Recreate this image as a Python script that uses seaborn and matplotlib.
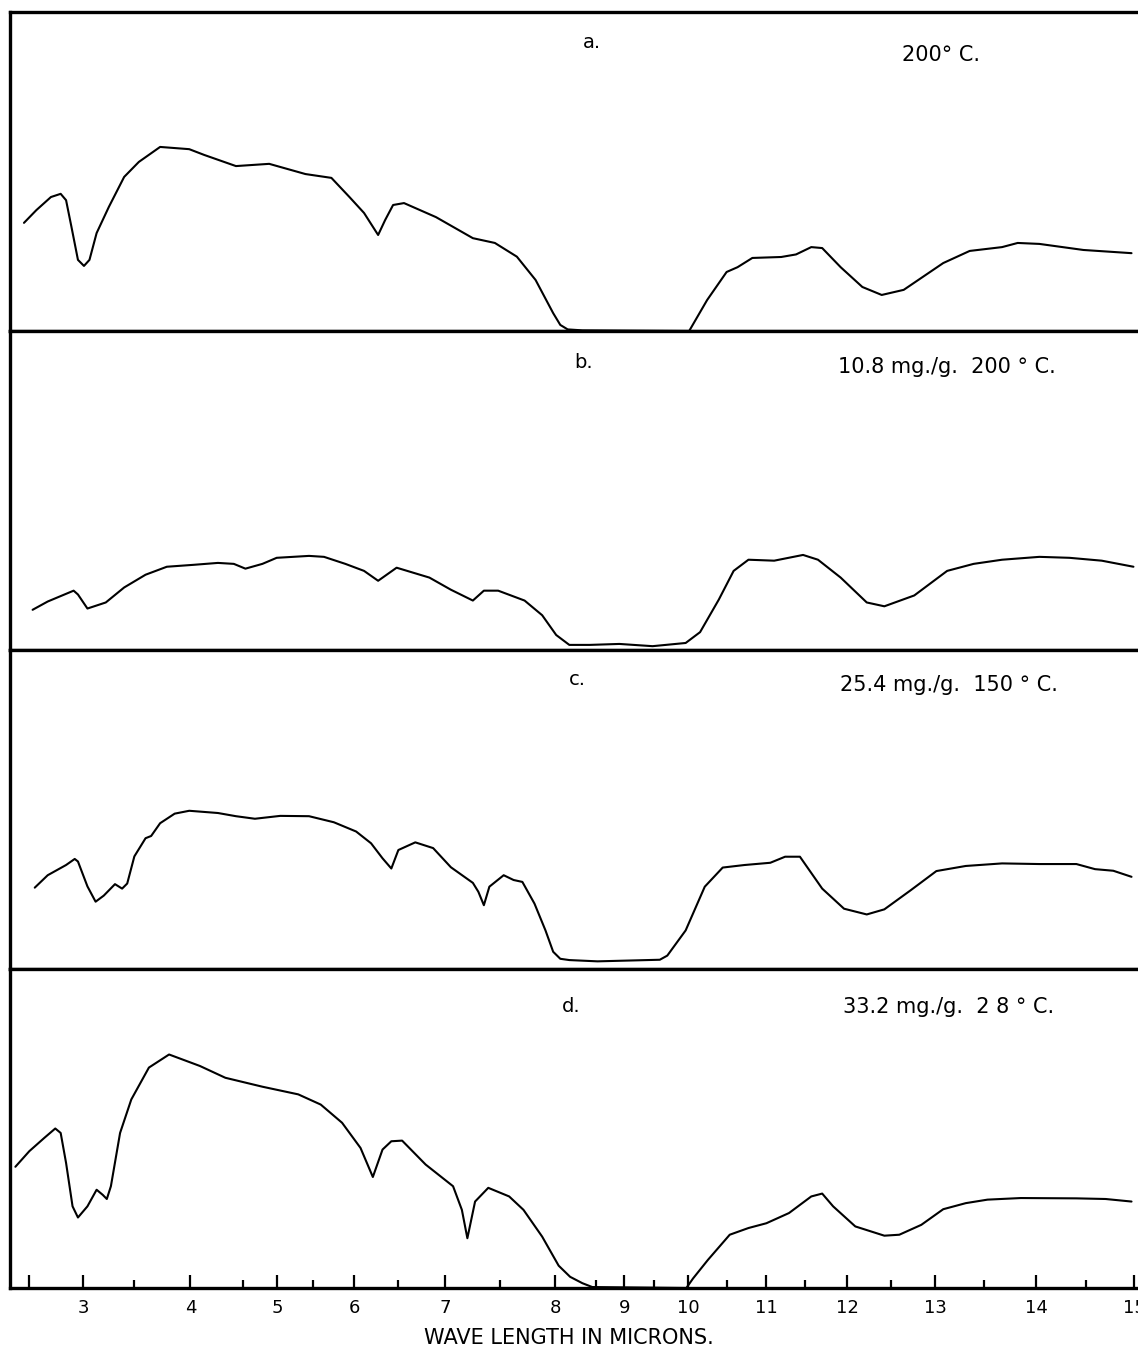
import numpy as np
import pandas as pd
import matplotlib
matplotlib.use("Agg")
import matplotlib.pyplot as plt
import seaborn as sns
from matplotlib.ticker import FixedLocator, FixedFormatter

# chart-paper calibration: wavelength (microns) -> position along the drum scale
cal_wave = [1.30, 2.5, 3, 3.5, 4, 4.5, 5, 5.5, 6, 6.5, 7, 7.5, 8, 8.5, 9, 9.5,
            10, 10.5, 11, 11.5, 12, 12.5, 13, 13.5, 14, 14.5, 15, 16.73]
cal_pos = [-100, 29, 83, 134, 190, 243, 277, 313, 354, 398, 445, 500, 555, 596,
           624, 654, 688, 727, 766, 805, 847, 891, 935, 984, 1036, 1086, 1134, 1300]

major_ticks = [2.5, 3, 4, 5, 6, 7, 8, 9, 10, 11, 12, 13, 14, 15]
major_labels = ["", "3", "4", "5", "6", "7", "8", "9", "10", "11", "12", "13", "14", "15"]
minor_ticks = [3.5, 4.5, 5.5, 6.5, 7.5, 8.5, 9.5, 10.5, 11.5, 12.5, 13.5, 14.5]

panel_letters = ["a.", "b.", "c.", "d."]
panel_notes = ["200° C.", "10.8 mg./g.  200 ° C.", "25.4 mg./g.  150 ° C.",
               "33.2 mg./g.  2 8 ° C."]

# transmission traces (percent of panel height)
wave_a = [2.45, 2.565, 2.70, 2.79, 2.84, 2.89, 2.95, 3.006, 3.06, 3.13, 3.25, 3.40,
          3.54, 3.73, 3.99, 4.13, 4.43, 4.88, 5.39, 5.72, 5.94, 6.11, 6.27, 6.35,
          6.44, 6.56, 6.90, 7.25, 7.45, 7.65, 7.82, 7.98, 8.06, 8.15, 8.33, 10.01,
          10.24, 10.49, 10.63, 10.82, 11.19, 11.38, 11.57, 11.70, 11.92, 12.17,
          12.39, 12.64, 13.08, 13.35, 13.67, 13.82, 14.03, 14.47, 14.97]
trans_a = [33.9, 37.9, 42.0, 43.0, 41.0, 32.6, 22.3, 20.4, 22.3, 30.7, 38.9, 48.3,
           53.0, 57.7, 57.0, 55.2, 51.7, 52.4, 49.2, 48.0, 42.0, 37.0, 30.1, 34.8,
           39.5, 40.1, 35.7, 29.1, 27.6, 23.3, 16.0, 5.6, 1.9, 0.5, 0.2, 0.0,
           9.7, 18.5, 20.0, 22.9, 23.2, 24.0, 26.3, 26.0, 20.0, 13.8,
           11.3, 12.9, 21.3, 25.1, 26.3, 27.6, 27.3, 25.4, 24.4]

wave_b = [2.53, 2.67, 2.91, 2.95, 3.04, 3.22, 3.40, 3.60, 3.79, 4.03, 4.26, 4.41,
          4.53, 4.78, 4.99, 5.44, 5.63, 5.89, 6.11, 6.27, 6.48, 6.83, 7.05, 7.25,
          7.35, 7.48, 7.72, 7.88, 8.01, 8.17, 8.42, 8.91, 9.47, 9.96, 10.15, 10.39,
          10.58, 10.77, 11.10, 11.47, 11.65, 11.92, 12.22, 12.42, 12.76, 13.12,
          13.39, 13.67, 14.03, 14.33, 14.66, 14.99]
trans_b = [12.6, 15.2, 18.6, 17.4, 13.0, 14.9, 19.6, 23.6, 26.1, 26.7, 27.3, 27.0,
           25.5, 27.0, 28.9, 29.5, 29.2, 27.0, 24.8, 21.7, 25.8, 22.7, 18.9, 15.5,
           18.6, 18.6, 15.5, 10.9, 4.7, 1.6, 1.6, 1.9, 1.2, 2.2, 5.6, 15.8,
           24.8, 28.3, 28.0, 29.8, 28.3, 22.7, 14.9, 13.7, 17.1, 24.8,
           27.0, 28.3, 29.2, 28.9, 28.0, 26.1]

wave_c = [2.55, 2.67, 2.84, 2.92, 2.95, 3.04, 3.12, 3.20, 3.31, 3.38, 3.43, 3.50,
          3.60, 3.65, 3.73, 3.86, 3.99, 4.26, 4.43, 4.67, 5.04, 5.44, 5.75, 6.02,
          6.19, 6.32, 6.42, 6.50, 6.68, 6.87, 7.05, 7.25, 7.30, 7.35, 7.40, 7.53,
          7.62, 7.70, 7.81, 7.91, 7.98, 8.06, 8.17, 8.52, 9.58, 9.69, 9.96, 10.21,
          10.44, 10.72, 11.05, 11.24, 11.43, 11.70, 11.96, 12.22, 12.42, 12.72,
          13.01, 13.31, 13.67, 14.03, 14.40, 14.59, 14.78, 14.97]
trans_c = [25.5, 29.4, 32.6, 34.5, 33.7, 25.9, 21.1, 23.0, 26.6, 25.2, 26.8, 35.3,
           41.0, 41.7, 45.7, 48.7, 49.6, 48.9, 47.9, 47.1, 48.0, 47.9, 46.0, 43.1,
           39.4, 34.7, 31.5, 37.3, 39.7, 37.9, 31.9, 27.0, 24.2, 20.0, 25.8, 29.4,
           27.9, 27.3, 20.5, 12.1, 5.4, 3.2, 2.8, 2.4, 2.9, 4.2, 12.1, 25.8,
           31.8, 32.6, 33.3, 35.2, 35.2, 25.2, 18.9, 17.1, 18.7, 24.7,
           30.7, 32.3, 33.1, 32.9, 32.9, 31.3, 30.8, 28.9]

wave_d = [2.37, 2.50, 2.64, 2.74, 2.79, 2.84, 2.90, 2.95, 3.04, 3.13, 3.19, 3.23,
          3.27, 3.36, 3.47, 3.63, 3.81, 4.09, 4.33, 4.78, 5.29, 5.59, 5.85, 6.07,
          6.21, 6.32, 6.42, 6.54, 6.79, 7.07, 7.15, 7.20, 7.27, 7.39, 7.58, 7.71,
          7.88, 8.04, 8.18, 8.33, 8.45, 9.97, 10.06, 10.25, 10.53, 10.77, 11.00,
          11.29, 11.57, 11.70, 11.83, 12.09, 12.42, 12.59, 12.84, 13.08, 13.31,
          13.53, 13.85, 14.40, 14.70, 14.97]
trans_d = [38.0, 42.9, 47.1, 50.0, 48.6, 39.2, 25.6, 22.1, 25.6, 30.8, 29.2, 27.9,
           31.9, 48.6, 59.1, 69.1, 73.2, 69.6, 65.9, 63.1, 60.7, 57.5, 51.8, 43.9,
           34.8, 43.4, 46.0, 46.2, 38.7, 31.9, 24.5, 15.6, 27.1, 31.4, 28.7, 24.5,
           16.1, 7.0, 3.5, 1.5, 0.3, 0.0, 3.0, 8.8, 16.7, 18.8, 20.3,
           23.5, 28.7, 29.6, 25.6, 19.3, 16.4, 16.7, 19.8, 24.7, 26.6,
           27.7, 28.2, 28.1, 27.9, 27.1]

traces = [(wave_a, trans_a), (wave_b, trans_b), (wave_c, trans_c), (wave_d, trans_d)]


def to_chart(w):
    return np.interp(w, cal_wave, cal_pos)


def from_chart(p):
    return np.interp(p, cal_pos, cal_wave)


sns.set_style("white")
plt.rcParams['font.family'] = ['DejaVu Sans']
plt.rcParams['text.color'] = 'black'
plt.rcParams['xtick.color'] = 'black'

fig, axes = plt.subplots(4, 1, figsize=(11.38, 13.67), dpi=100, sharex=True)
fig.subplots_adjust(left=10 / 1138, right=1144 / 1138, top=1 - 12 / 1367,
                    bottom=1 - 1288 / 1367, hspace=0)

# placement of the panel letter and sample note (axes fraction)
letter_xy = [(0.505, 0.903), (0.498, 0.900), (0.493, 0.906), (0.487, 0.881)]
note_xy = [(0.787, 0.865), (0.730, 0.887), (0.732, 0.890), (0.735, 0.881)]

for i, ax in enumerate(axes):
    w, t = traces[i]
    df = pd.DataFrame({'wave': w, 'trans': t})
    ax.set_xscale('function', functions=(to_chart, from_chart))
    sns.lineplot(data=df, x='wave', y='trans', ax=ax, color='black', lw=1.5,
                 estimator=None, sort=False)
    ax.set_xlim(2.32, 15.10)
    ax.set_ylim(0, 100)
    ax.set_xlabel('')
    ax.set_ylabel('')
    ax.set_yticks([])
    for sp in ax.spines.values():
        sp.set_linewidth(2.4)
        sp.set_color('black')
    ax.text(*letter_xy[i], panel_letters[i], transform=ax.transAxes,
            fontsize=14, va='center', ha='left', color='black')
    ax.text(*note_xy[i], panel_notes[i], transform=ax.transAxes,
            fontsize=15, va='center', ha='left', color='black')
    if i < 3:
        ax.tick_params(axis='x', which='both', bottom=False, top=False,
                       labelbottom=False)

ax = axes[-1]
ax.xaxis.set_major_locator(FixedLocator(major_ticks))
ax.xaxis.set_major_formatter(FixedFormatter(major_labels))
ax.xaxis.set_minor_locator(FixedLocator(minor_ticks))
ax.tick_params(axis='x', which='major', direction='in', length=9.5, width=1.6,
               labelsize=13, pad=8, bottom=True, top=False, colors='black')
ax.tick_params(axis='x', which='minor', direction='in', length=6, width=1.6,
               bottom=True, top=False, colors='black')

fig.text(0.5, 1 - 1338 / 1367, 'WAVE LENGTH IN MICRONS.', ha='center', va='center',
         fontsize=15, color='black')

fig.savefig('out.png', dpi=100, facecolor='white')
